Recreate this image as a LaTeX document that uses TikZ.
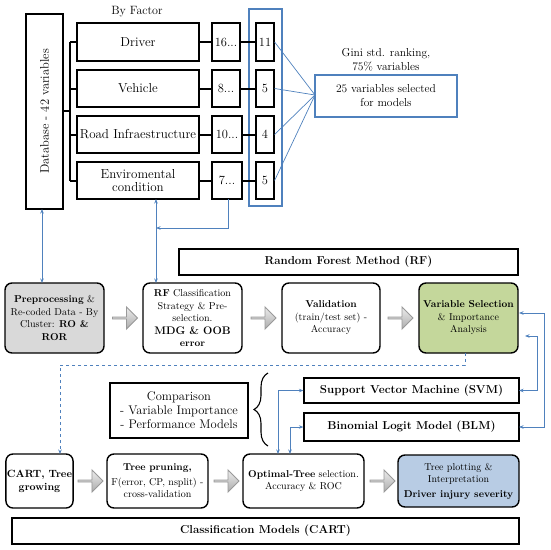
\documentclass[tikz,border=0pt]{standalone}
\usetikzlibrary{arrows.meta,shapes.arrows,decorations.pathreplacing,calc}
\definecolor{lb}{RGB}{79,129,189}
\definecolor{grn}{RGB}{196,215,155}
\definecolor{pblue}{RGB}{184,204,228}
\definecolor{lgray}{RGB}{217,217,217}
\tikzset{
 box/.style={draw=black, line width=1.2pt, inner sep=1pt, align=center},
 rbox/.style={box, rounded corners=7pt, line width=1.4pt, font=\fontsize{10}{12.5}\selectfont},
 bluebox/.style={draw=lb, line width=1.1pt, inner sep=0pt, align=center},
 barrow/.style={single arrow, draw=gray!80, shading=axis, top color=gray!15, bottom color=gray!65,
   single arrow head extend=4.5pt, minimum width=22pt, minimum height=25pt, inner sep=0pt, line width=0.9pt},
 bl/.style={draw=lb, line width=0.9pt},
 btip/.style={-{Stealth[length=4.5pt,width=3.5pt]}},
 bboth/.style={{Stealth[length=4.5pt,width=3.5pt]}-{Stealth[length=4.5pt,width=3.5pt]}},
 thk/.style={draw=black, line width=2pt},
 facf/.style={font=\fontsize{13}{14.5}\selectfont},
 numf/.style={font=\fontsize{12.5}{14}\selectfont},
}
\begin{document}
\begin{tikzpicture}[x=1pt,y=-1pt]
\useasboundingbox (0,0) rectangle (550,550);
% ---- top part
\node[box, minimum width=37pt, minimum height=195pt] (db) at (44.5,111.5) {};
\node[rotate=90, font=\fontsize{12.5}{14}\selectfont] (dbtext) at (db.center) {Database - 42 variables};
\node[font=\fontsize{12}{14}\selectfont] (byf) at (137,12) {By Factor};
\node[box, facf, minimum width=122pt, minimum height=38pt] (drv) at (138,42) {Driver};
\node[box, facf, minimum width=122pt, minimum height=37pt] (veh) at (138,88.5) {Vehicle};
\node[box, facf, minimum width=122pt, minimum height=37pt, inner sep=0pt] (road) at (138,134.5) {Road Infraestructure};
\node[box, facf, minimum width=122pt, minimum height=37pt, font=\fontsize{13}{13.5}\selectfont] (env) at (138,180.5) {Enviromental\\condition};
\node[box, numf, minimum width=28pt, minimum height=38pt, inner sep=0pt] (na) at (226,42) {16...};
\node[box, numf, minimum width=28pt, minimum height=37pt, inner sep=0pt] (nb) at (226,88.5) {8...};
\node[box, numf, minimum width=30pt, minimum height=37pt, inner sep=0pt] (nc) at (227,134.5) {10...};
\node[box, numf, minimum width=30pt, minimum height=37pt, inner sep=0pt] (nd) at (227,180.5) {7...};
\node[box, numf, minimum width=18pt, minimum height=38pt, inner sep=0pt] (ma) at (265,42) {11};
\node[box, numf, minimum width=18pt, minimum height=37pt, inner sep=0pt] (mb) at (265,88.5) {5};
\node[box, numf, minimum width=18pt, minimum height=37pt, inner sep=0pt] (mc) at (265,134.5) {4};
\node[box, numf, minimum width=18pt, minimum height=37pt, inner sep=0pt] (md) at (265,180.5) {5};
\node[bluebox, minimum width=33pt, minimum height=197pt] (brect) at (265.5,107.5) {};
\node[align=center, font=\fontsize{11.5}{13.5}\selectfont] (gini) at (386,60) {Gini std. ranking,\\75\% variables};
\node[bluebox, minimum width=142pt, minimum height=42pt, font=\fontsize{11.5}{14}\selectfont] (sel) at (386,96) {25 variables selected\\for models};
% bracket
\coordinate (brT) at (70,42);
\coordinate (brB) at (70,180.5);
\draw[thk] (brT) -- (brB);
\draw[thk] (db.east |- 0,111) -- (70,111);
\foreach \n in {drv,veh,road,env} {\draw[thk] (\n.west) -- (\n.west -| brT);}
\draw[thk] (drv.east) -- (na.west); \draw[thk] (na.east) -- (ma.west);
\draw[thk] (veh.east) -- (nb.west); \draw[thk] (nb.east) -- (mb.west);
\draw[thk] (road.east) -- (nc.west); \draw[thk] (nc.east) -- (mc.west);
\draw[thk] (env.east) -- (nd.west); \draw[thk] (nd.east) -- (md.west);
\coordinate (selL) at (315,95);
\foreach \n in {ma,mb,mc,md} {\draw[bl, line width=0.7pt] (\n.east) -- (selL);}
% ---- RF row
\node[box, minimum width=339pt, minimum height=26pt, font=\fontsize{11.5}{13}\selectfont\bfseries] (rf) at (348.5,262) {Random Forest Method (RF)};
\node[rbox, fill=lgray, minimum width=99pt, minimum height=70pt] (pre) at (54.5,318)
 {{\bfseries Preprocessing} \&\\Re-coded Data - By\\Cluster: {\bfseries RO \&}\\{\bfseries ROR}};
\node[rbox, minimum width=99pt, minimum height=70pt] (rfc) at (192.5,318)
 {{\bfseries RF} Classification\\Strategy \& Pre-\\selection.\\{\fontsize{11}{12.5}\selectfont\bfseries MDG \& OOB}\\{\bfseries error}};
\node[rbox, minimum width=98pt, minimum height=70pt] (val) at (331,318)
 {{\bfseries Validation}\\(train/test set) -\\Accuracy};
\node[rbox, fill=grn, minimum width=99pt, minimum height=70pt] (vs) at (468.5,318)
 {{\bfseries Variable Selection}\\\& Importance\\Analysis};
\node[barrow] (a1) at (124.5,318) {};
\node[barrow] (a2) at (263,318) {};
\node[barrow] (a3) at (400,318) {};
% ---- models
\node[box, minimum width=215pt, minimum height=25pt, font=\fontsize{11.5}{13}\selectfont\bfseries] (svm) at (411.5,390.5) {Support Vector Machine (SVM)};
\node[box, minimum width=215pt, minimum height=28pt, font=\fontsize{11.5}{13}\selectfont\bfseries] (blm) at (411.5,427) {Binomial Logit Model (BLM)};
\node[box, minimum width=138pt, minimum height=55pt, font=\fontsize{12.5}{14}\selectfont] (cmp) at (179,410.5)
 {Comparison\\- Variable Importance\\- Performance Models};
\coordinate (brcT) at (268,373);
\coordinate (brcB) at (268,446);
\draw[line width=1.1pt, decorate, decoration={brace, amplitude=14pt}] (brcB) -- (brcT);
% ---- CART row
\node[rbox, minimum width=67pt, minimum height=54pt, font=\fontsize{10.5}{13}\selectfont\bfseries] (cart) at (39.5,481) {CART, Tree\\growing};
\node[rbox, minimum width=101pt, minimum height=54pt] (tp) at (157.5,481)
 {{\bfseries Tree pruning,}\\[2pt]F(error, CP, nsplit) -\\cross-validation};
\node[rbox, minimum width=121pt, minimum height=54pt] (opt) at (303.5,481)
 {{\bfseries Optimal-Tree} selection.\\Accuracy \& ROC};
\node[rbox, fill=pblue, minimum width=121pt, minimum height=52pt] (plot) at (458.5,481)
 {Tree plotting \&\\Interpretation\\[2pt]{\bfseries Driver injury severity}};
\node[barrow] (a4) at (90,481) {};
\node[barrow] (a5) at (226,481) {};
\node[barrow] (a6) at (382,481) {};
\node[box, minimum width=507pt, minimum height=26pt, font=\fontsize{11.5}{13}\selectfont\bfseries] (cls) at (265.5,531) {Classification Models (CART)};
% ---- blue connectors
\coordinate (dbB) at (42,209);
\coordinate (preT) at (42,283);
\draw[bl, bboth] (dbB) -- (preT);
\coordinate (envB) at (156,199);
\coordinate (rfcT) at (156,283);
\draw[bl, bboth] (envB) -- (rfcT);
\coordinate (ndB) at (228,199);
\coordinate (jn) at (156,228);
\draw[bl, btip] (ndB) -- (228,228) -- (jn);
% right side
\coordinate (vsR1) at (519,313);
\coordinate (blmR) at (519,427);
\draw[bl, bboth] (vsR1) -- (544,313) -- (544,427) -- (blmR);
\coordinate (vsR2) at (525,336);
\coordinate (svmR) at (519,390.5);
\draw[bl, bboth] (vsR2) -- (537,336) -- (537,390.5) -- (svmR);
% optimal to svm/blm
\coordinate (optT1) at (278,454);
\coordinate (optT2) at (290,454);
\draw[bl, bboth] (optT1) -- (278,390.5) -- (svm.west);
\draw[bl, bboth] (optT2) -- (290,427) -- (blm.west);
% dashed
\coordinate (vsB) at (465,353);
\coordinate (cartT) at (60,454);
\draw[bl, dashed, btip] (vsB) -- (465,365) -- (60,365) -- (cartT);
\end{tikzpicture}
\end{document}
